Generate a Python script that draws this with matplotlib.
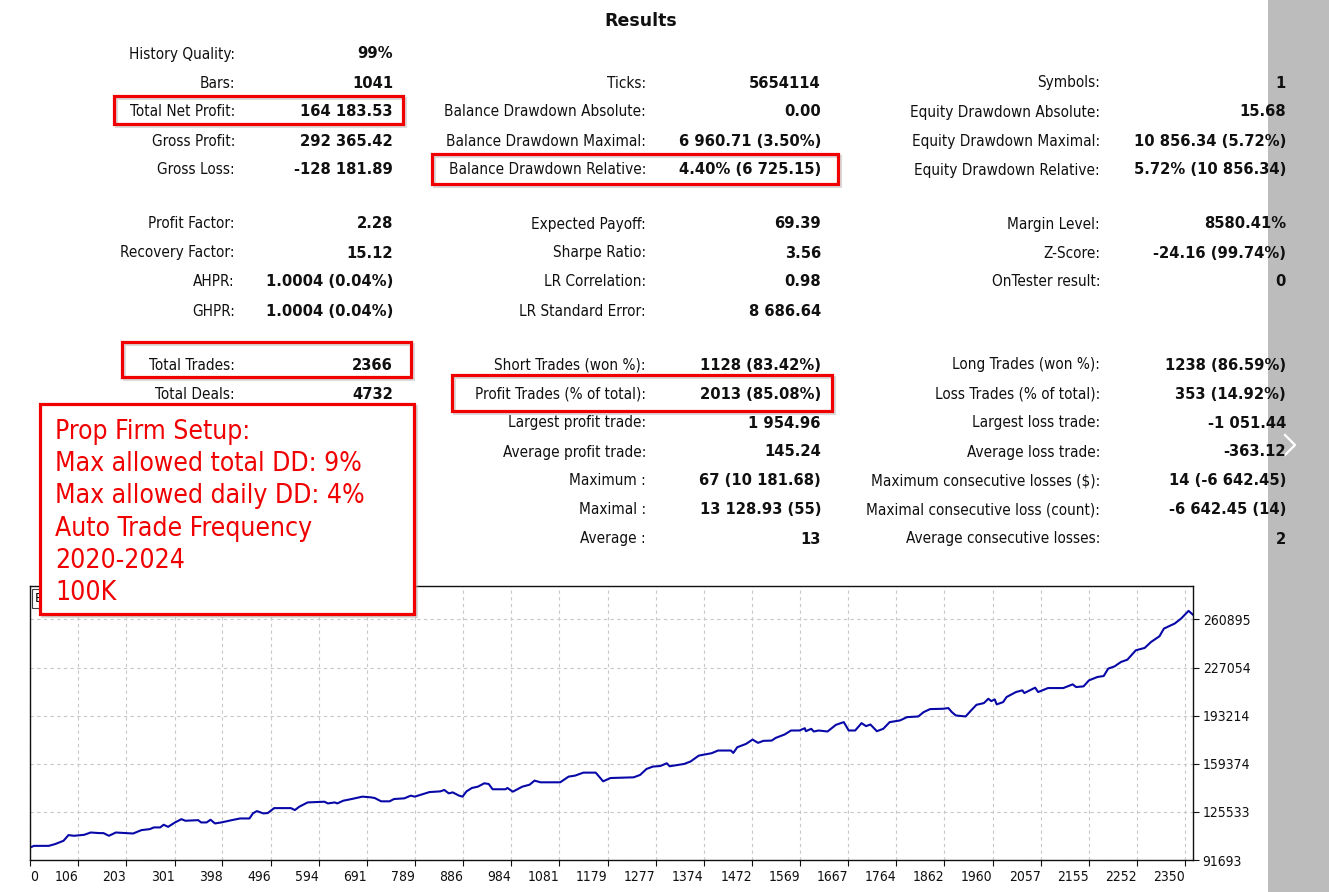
import matplotlib
matplotlib.use('Agg')
import matplotlib.pyplot as plt
from matplotlib.patches import Rectangle
from matplotlib.lines import Line2D

# Stats table, three columns: (label, value); None = empty row
col1 = [('History Quality:', '99%'), ('Bars:', '1041'), ('Total Net Profit:', '164 183.53'),
        ('Gross Profit:', '292 365.42'), ('Gross Loss:', '-128 181.89'), None,
        ('Profit Factor:', '2.28'), ('Recovery Factor:', '15.12'), ('AHPR:', '1.0004 (0.04%)'),
        ('GHPR:', '1.0004 (0.04%)'), None, ('Total Trades:', '2366'), ('Total Deals:', '4732')]
col2 = [None, ('Ticks:', '5654114'), ('Balance Drawdown Absolute:', '0.00'),
        ('Balance Drawdown Maximal:', '6 960.71 (3.50%)'), ('Balance Drawdown Relative:', '4.40% (6 725.15)'), None,
        ('Expected Payoff:', '69.39'), ('Sharpe Ratio:', '3.56'), ('LR Correlation:', '0.98'),
        ('LR Standard Error:', '8 686.64'), None, ('Short Trades (won %):', '1128 (83.42%)'),
        ('Profit Trades (% of total):', '2013 (85.08%)'), ('Largest profit trade:', '1 954.96'),
        ('Average profit trade:', '145.24'), ('Maximum :', '67 (10 181.68)'),
        ('Maximal :', '13 128.93 (55)'), ('Average :', '13')]
col3 = [None, ('Symbols:', '1'), ('Equity Drawdown Absolute:', '15.68'),
        ('Equity Drawdown Maximal:', '10 856.34 (5.72%)'), ('Equity Drawdown Relative:', '5.72% (10 856.34)'), None,
        ('Margin Level:', '8580.41%'), ('Z-Score:', '-24.16 (99.74%)'), ('OnTester result:', '0'),
        None, None, ('Long Trades (won %):', '1238 (86.59%)'),
        ('Loss Trades (% of total):', '353 (14.92%)'), ('Largest loss trade:', '-1 051.44'),
        ('Average loss trade:', '-363.12'), ('Maximum consecutive losses ($):', '14 (-6 642.45)'),
        ('Maximal consecutive loss (count):', '-6 642.45 (14)'), ('Average consecutive losses:', '2')]

note_lines = ['Prop Firm Setup:', 'Max allowed total DD: 9%', 'Max allowed daily DD: 4%',
              'Auto Trade Frequency', '2020-2024', '100K']

# Balance curve
trade_no = [8, 16, 46, 59, 76, 86, 97, 118, 131, 149,
            157, 168, 182, 217, 234, 251, 259, 272, 279, 288,
            302, 315, 323, 349, 355, 366, 374, 383, 396, 417,
            434, 453, 460, 468, 481, 490, 503, 537, 545, 554,
            571, 605, 612, 626, 631, 643, 660, 682, 699, 707,
            720, 737, 746, 767, 780, 788, 801, 818, 840, 848,
            857, 865, 878, 885, 893, 904, 916, 929, 938, 946,
            972, 976, 987, 1006, 1021, 1031, 1043, 1083, 1100, 1113,
            1130, 1155, 1170, 1185, 1232, 1245, 1258, 1271, 1286, 1299,
            1305, 1334, 1347, 1364, 1390, 1403, 1429, 1434, 1442, 1460,
            1473, 1484, 1495, 1512, 1520, 1538, 1551, 1568, 1579, 1581,
            1592, 1597, 1607, 1625, 1642, 1658, 1668, 1681, 1694, 1703,
            1712, 1725, 1738, 1751, 1772, 1786, 1809, 1820, 1833, 1859,
            1870, 1877, 1885, 1905, 1916, 1927, 1942, 1951, 1957, 1964,
            1968, 1981, 1988, 2007, 2020, 2024, 2035, 2046, 2052, 2072,
            2103, 2122, 2129, 2144, 2155, 2172, 2185, 2194, 2207, 2220,
            2233, 2250, 2268, 2281, 2298, 2307, 2329, 2342, 2357, 2366]
balance = [100450, 101640, 101640, 102900, 105220, 109210, 108720, 109420, 111030, 110610,
           110610, 108720, 111030, 110330, 112710, 113410, 114600, 114600, 116490, 115020,
           118110, 120420, 119300, 119720, 118110, 118110, 120000, 117410, 118110, 119720,
           120910, 120910, 124480, 126090, 124480, 124690, 128190, 128190, 126790, 129180,
           132190, 132680, 131490, 132190, 131490, 133380, 134570, 136250, 135760, 135270,
           132960, 132960, 134570, 135060, 136950, 136250, 137650, 139470, 139960, 140950,
           138560, 139260, 136950, 136250, 139960, 142350, 143260, 145640, 145150, 141440,
           141440, 142350, 139750, 143260, 144660, 147530, 146340, 146340, 150330, 151030,
           153140, 153140, 147040, 149350, 149840, 151520, 155730, 157410, 157800, 159720,
           157620, 159230, 160910, 165120, 166800, 168690, 168690, 167010, 171000, 173380,
           176400, 174080, 175490, 175700, 177590, 179970, 182770, 182770, 184380, 182280,
           183960, 182070, 182770, 182070, 186760, 188660, 182770, 182770, 187960, 185850,
           186980, 182280, 183960, 188660, 189850, 192160, 192650, 195730, 197830, 198040,
           198540, 195730, 193350, 192650, 196850, 200850, 202040, 205120, 203440, 204630,
           201130, 202740, 206310, 209810, 211010, 209110, 211010, 212900, 209810, 212620,
           212620, 215210, 213320, 213810, 218010, 220390, 221090, 226280, 227890, 230970,
           232580, 239170, 240850, 245050, 249050, 254440, 258020, 261520, 266910, 264180]

x_ticks = [0, 106, 203, 301, 398, 496, 594, 691, 789, 886, 984, 1081, 1179,
           1277, 1374, 1472, 1569, 1667, 1764, 1862, 1960, 2057, 2155, 2252, 2350]
y_ticks = [91693, 125533, 159374, 193214, 227054, 260895]

W, H = 1329, 892
fig = plt.figure(figsize=(W / 100, H / 100), dpi=100)


def fx(x):
    return x / W


def fy(y):
    return 1 - y / H


def box(x0, y0, x1, y1, fill=None, z=5):
    # soft shadow then red frame, pixel coords from top-left
    sh = Rectangle((fx(x0 + 2), fy(y1 + 2)), (x1 - x0) / W, (y1 - y0) / H, transform=fig.transFigure,
                   fill=fill is not None, facecolor='#b0b0b0', edgecolor='#b0b0b0', lw=2.2, alpha=0.45, zorder=z)
    fr = Rectangle((fx(x0), fy(y1)), (x1 - x0) / W, (y1 - y0) / H, transform=fig.transFigure,
                   fill=fill is not None, facecolor=fill or 'none', edgecolor='#f00000', lw=2.3, zorder=z + 0.1)
    fig.add_artist(sh)
    fig.add_artist(fr)


# grey strip on the right
fig.add_artist(Rectangle((fx(1268), 0), (W - 1268) / W, 1, transform=fig.transFigure,
                         facecolor='#bcbcbc', edgecolor='none', zorder=0.5))
fig.add_artist(Line2D([fx(1285), fx(1295), fx(1285)], [fy(435), fy(445), fy(455)],
                      transform=fig.transFigure, color='white', lw=1.6, zorder=0.6))

lab_font = dict(family='DejaVu Sans', fontstretch='condensed', fontsize=11, color='#101010')
val_font = dict(family='DejaVu Sans', fontweight='bold', fontsize=10.6, color='#101010')

fig.text(fx(641), fy(21), 'Results', ha='center', va='center', family='DejaVu Sans',
         fontweight='bold', fontsize=12.5, color='#101010')

row_y = [53, 82, 111, 140, 169, 196, 223, 252, 281, 310, 337, 364, 393, 422, 451, 480, 509, 538]
for col, lx, vx in [(col1, 235, 393), (col2, 646, 821), (col3, 1100, 1286)]:
    for i, item in enumerate(col):
        if item is None:
            continue
        fig.text(fx(lx), fy(row_y[i] + 1), item[0], ha='right', va='center', zorder=3, **lab_font)
        fig.text(fx(vx), fy(row_y[i] + 1), item[1], ha='right', va='center', zorder=3, **val_font)

box(114, 96, 403, 124)
box(432, 154, 838, 184)
box(122, 342, 411, 377)
box(452, 375, 832, 411)

# balance chart
x_lo, x_hi = 8, 2366
ax = fig.add_axes([fx(30), fy(860), (1193 - 30) / W, (860 - 586) / H])
ax.plot(trade_no, balance, color='#0808a8', lw=1.5)
ax.set_xlim(x_lo, x_hi)
ax.set_ylim(91693, 284400)
ax.set_xticks([max(t, x_lo) for t in x_ticks])
ax.set_xticklabels([str(t) for t in x_ticks])
ax.set_yticks(y_ticks)
ax.set_yticklabels([str(t) for t in y_ticks])
ax.yaxis.tick_right()
ax.grid(True, color='#c8c8c8', linestyle=(0, (3, 3)), lw=0.8)
ax.tick_params(axis='both', direction='out', length=4, width=0.8, labelsize=10, colors='#101010')
ax.tick_params(axis='x', pad=3)
ax.tick_params(axis='y', pad=3)
for lbl in ax.get_xticklabels() + ax.get_yticklabels():
    lbl.set_fontstretch('condensed')
xl = ax.get_xticklabels()
xl[0].set_ha('left')
for lbl in xl[1:]:
    lbl.set_ha('right')
for sp in ax.spines.values():
    sp.set_color('#101010')
    sp.set_linewidth(1)
# series legend, mostly covered by the note box as in the original
ax.text(0.004, 0.955, 'B', transform=ax.transAxes, fontsize=9, va='center', ha='left',
        bbox=dict(facecolor='white', edgecolor='#404040', lw=0.8, pad=2))

# note box
box(40, 404, 414, 614, fill='white', z=6)
for i, line in enumerate(note_lines):
    fig.text(fx(55), fy(432 + i * 32.2), line, ha='left', va='center', family='DejaVu Sans',
             fontstretch='condensed', fontsize=19, color='#f00000', zorder=7)

fig.savefig('out.png', dpi=100)
